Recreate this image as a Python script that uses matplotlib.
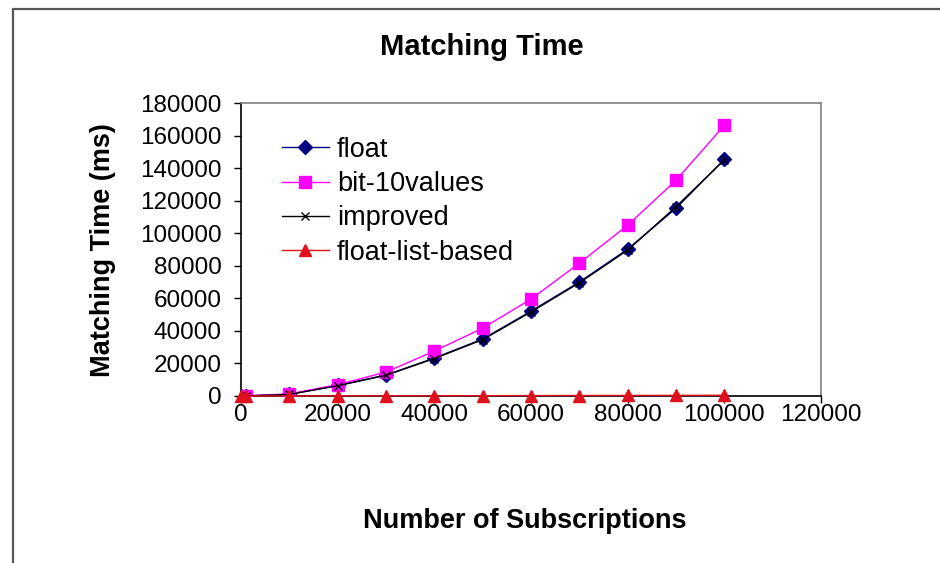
import matplotlib
matplotlib.use("Agg")
import matplotlib.pyplot as plt
from matplotlib.patches import Rectangle

plt.rcParams['font.family'] = ['Liberation Sans', 'DejaVu Sans']

# Number of subscriptions
subscriptions = [100, 1000, 10000, 20000, 30000, 40000, 50000, 60000, 70000, 80000, 90000, 100000]

# Matching time (ms) per method
float_ms = [5, 30, 1000, 6500, 12900, 23300, 35000, 52100, 70000, 90200, 115300, 145400]
bit10_ms = [6, 40, 1300, 7000, 14700, 27600, 41700, 59500, 81600, 104900, 132500, 166300]
improved_ms = [5, 30, 1000, 6300, 12700, 23000, 34600, 51600, 69500, 89600, 116300, 145000]
float_list_ms = [1, 3, 40, 80, 120, 160, 200, 250, 300, 350, 400, 450]

series_labels = ["float", "bit-10values", "improved", "float-list-based"]
x_ticks = [0, 20000, 40000, 60000, 80000, 100000, 120000]
y_ticks = [0, 20000, 40000, 60000, 80000, 100000, 120000, 140000, 160000, 180000]

W, H = 940, 563
fig = plt.figure(figsize=(W / 100, H / 100), dpi=100)
fig.patch.set_facecolor("white")

# chart frame
fig.add_artist(Rectangle((13 / W, -0.05), 1.0, 1.05 - 9 / H, transform=fig.transFigure,
                         fill=False, edgecolor="#555555", linewidth=1.6))

ax = fig.add_axes([241 / W, 1 - 396 / H, (821 - 241) / W, (396 - 103) / H])
ax.set_xlim(0, 120000)
ax.set_ylim(0, 180000)

ax.plot(subscriptions, float_ms, color="#000080", lw=1.0, marker="D", ms=7,
        label=series_labels[0], zorder=3)
ax.plot(subscriptions, bit10_ms, color="#FF00FF", lw=1.0, marker="s", ms=8,
        label=series_labels[1], zorder=4)
ax.plot(subscriptions, improved_ms, color="black", lw=1.0, marker="x", ms=6, mew=1.0,
        label=series_labels[2], zorder=5)
ax.plot(subscriptions, float_list_ms, color="#E0101E", lw=1.0, marker="^", ms=8,
        label=series_labels[3], zorder=6, clip_on=False)

ax.set_xticks(x_ticks)
ax.set_yticks(y_ticks)
ax.set_xticklabels([str(v) for v in x_ticks])
ax.set_yticklabels([str(v) for v in y_ticks])
ax.tick_params(axis="both", direction="out", length=5, width=1, colors="black",
               labelsize=17.5)
ax.tick_params(axis="y", pad=9)
ax.tick_params(axis="x", pad=1)

for side in ("left", "bottom"):
    ax.spines[side].set_color("black")
    ax.spines[side].set_linewidth(1.2)
for side in ("top", "right"):
    ax.spines[side].set_color("#808080")
    ax.spines[side].set_linewidth(1.2)

leg = ax.legend(loc="upper left", bbox_to_anchor=(0.07, 0.885), frameon=False,
                fontsize=19.5, handlelength=1.75, handletextpad=0.3, labelspacing=0.31,
                borderaxespad=0, borderpad=0)

fig.text(482 / W, 1 - 47 / H, "Matching Time", ha="center", va="center",
         fontsize=21, fontweight="bold")
fig.text(103 / W, 1 - 250 / H, "Matching Time (ms)", ha="center", va="center",
         rotation=90, fontsize=19.5, fontweight="bold")
fig.text(525 / W, 1 - 521 / H, "Number of Subscriptions", ha="center", va="center",
         fontsize=19.5, fontweight="bold")

fig.savefig("out.png", dpi=100)
